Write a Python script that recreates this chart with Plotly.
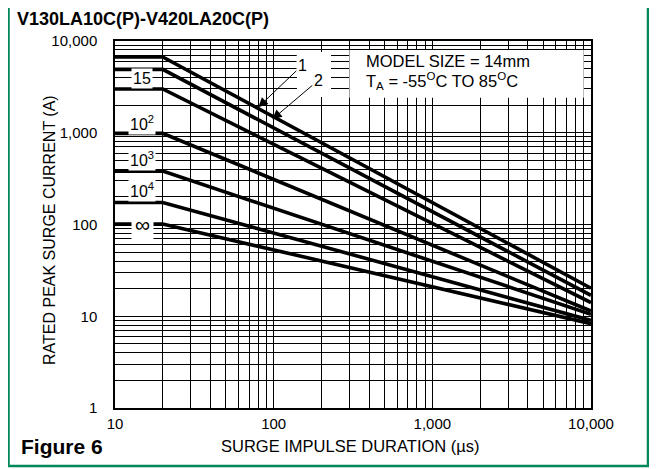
import math
import plotly.graph_objects as go

# ---------------- data ----------------
pulse_labels = ["1", "2", "15", "10<sup>2</sup>", "10<sup>3</sup>", "10<sup>4</sup>", "∞"]
duration_us = [10, 20, 10000]                      # flat up to 20 µs, then straight (log-log) to 10 ms
current_flat_A = [6700, 4900, 3000, 985, 382, 174, 101]
current_at_10ms_A = [20.2, 16.9, 14.1, 11.4, 10.5, 9.0, 8.3]

x_tick_vals = [10, 100, 1000, 10000]
x_tick_text = ["10", "100", "1,000", "10,000"]
y_tick_vals = [1, 10, 100, 1000, 10000]
y_tick_text = ["1", "10", "100", "1,000", "10,000"]

title_text = "V130LA10C(P)-V420LA20C(P)"
figure_label = "Figure 6"
x_title = "SURGE IMPULSE DURATION (µs)"
y_title = "RATED PEAK SURGE CURRENT (A)"
note_line1 = "MODEL SIZE = 14mm"
note_line2 = "T<sub>A</sub> = -55<sup>O</sup>C TO 85<sup>O</sup>C"

# ---------------- layout geometry (page pixels; page body has an 8px margin) ----------------
OFF = 8
W, H = 657 - OFF, 469 - OFF
L, R, T, B = 115 - OFF, 591 - OFF, 41 - OFF, 408 - OFF
PW, PH = R - L, B - T
X_RANGE = [1, 4]
Y_RANGE = [0, 4]

def px_x(p):  # page pixel -> paper fraction
    return (p - OFF - L) / PW

def px_y(p):
    return (B - (p - OFF)) / PH

def dx(v):
    return (math.log10(v) - X_RANGE[0]) / (X_RANGE[1] - X_RANGE[0])

def dy(v):
    return (math.log10(v) - Y_RANGE[0]) / (Y_RANGE[1] - Y_RANGE[0])

FONT = "Liberation Sans, Arial, Helvetica, sans-serif"
GREEN = "#00875a"
GRID = "#000000"

minor_x = [m * 10 ** k for k in range(1, 4) for m in range(2, 10)]
minor_y = [m * 10 ** k for k in range(0, 4) for m in range(2, 10)]

fig = go.Figure()
for lab, v0, v1 in zip(pulse_labels, current_flat_A, current_at_10ms_A):
    fig.add_trace(go.Scatter(
        x=duration_us, y=[v0, v0, v1], mode="lines",
        line=dict(color="black", width=3.6), name=lab, showlegend=False,
        hoverinfo="skip"))

axis_common = dict(
    type="log", showline=True, linecolor="black", linewidth=1.5, mirror=True,
    showgrid=True, gridcolor=GRID, gridwidth=1, ticks="", zeroline=False,
    tickfont=dict(family=FONT, size=15, color="black"),
)
fig.update_xaxes(range=X_RANGE, tickmode="array", tickvals=x_tick_vals, ticktext=x_tick_text,
                 minor=dict(tickmode="array", tickvals=minor_x, showgrid=True,
                            gridcolor=GRID, gridwidth=1, ticks=""),
                 ticklabelstandoff=1, **axis_common)
fig.update_yaxes(range=Y_RANGE, tickmode="array", tickvals=y_tick_vals, ticktext=y_tick_text,
                 minor=dict(tickmode="array", tickvals=minor_y, showgrid=True,
                            gridcolor=GRID, gridwidth=1, ticks=""),
                 ticklabelstandoff=13, **axis_common)

shapes = [
    # green frame
    dict(type="rect", xref="paper", yref="paper", x0=px_x(8.5), x1=px_x(648),
         y0=px_y(466), y1=px_y(-10), line=dict(color=GREEN, width=2.5), layer="above"),
    # white note box
    dict(type="rect", xref="paper", yref="paper", x0=dx(300), x1=dx(9000),
         y0=dy(2400), y1=dy(8000), fillcolor="white", line=dict(width=0), layer="above"),
    # white patch behind curve numbers 1 and 2
    dict(type="rect", xref="paper", yref="paper", x0=px_x(297), x1=px_x(331),
         y0=px_y(97), y1=px_y(52), fillcolor="white", line=dict(width=0), layer="above"),
]

ann = []
ann.append(dict(text="<b>%s</b>" % title_text, xref="paper", yref="paper", x=px_x(15), y=px_y(19),
                xanchor="left", yanchor="middle", showarrow=False,
                font=dict(family=FONT, size=18, color="black")))
ann.append(dict(text="<b>%s</b>" % figure_label, xref="paper", yref="paper", x=px_x(19), y=px_y(446),
                xanchor="left", yanchor="middle", showarrow=False,
                font=dict(family=FONT, size=21, color="black")))
ann.append(dict(text=x_title, xref="paper", yref="paper", x=px_x(350), y=px_y(446),
                xanchor="center", yanchor="middle", showarrow=False,
                font=dict(family=FONT, size=16.5, color="black")))
ann.append(dict(text=y_title, xref="paper", yref="paper", x=px_x(50), y=px_y(230),
                xanchor="center", yanchor="middle", showarrow=False, textangle=-90,
                font=dict(family=FONT, size=16, color="black")))
ann.append(dict(text=note_line1, xref="paper", yref="paper", x=px_x(364), y=px_y(61),
                xanchor="left", yanchor="middle", showarrow=False,
                font=dict(family=FONT, size=16.5, color="black")))
ann.append(dict(text=note_line2, xref="paper", yref="paper", x=px_x(364), y=px_y(81),
                xanchor="left", yanchor="middle", showarrow=False,
                font=dict(family=FONT, size=16.5, color="black")))

label_shift = {"15": 10, "10<sup>2</sup>": 10, "10<sup>3</sup>": 12, "10<sup>4</sup>": 12, "∞": 0}
for lab, v0 in zip(pulse_labels, current_flat_A):
    if lab in label_shift:
        is_inf = lab == "∞"
        ann.append(dict(text=lab, xref="x", yref="y", x=math.log10(14.8), y=math.log10(v0),
                        yshift=label_shift[lab], showarrow=False, bgcolor="white",
                        borderpad=3 if is_inf else 1,
                        xanchor="center", yanchor="middle",
                        font=dict(family=FONT, size=21 if is_inf else 16, color="black")))

arrow_tips = {"1": (80, 1900, 44, -42), "2": (98, 1400, 46, -39)}
for lab, (tx, ty, ax, ay) in arrow_tips.items():
    ann.append(dict(text=lab, xref="x", yref="y", x=math.log10(tx), y=math.log10(ty),
                    ax=ax, ay=ay, showarrow=True, arrowhead=2, arrowsize=1.9, arrowwidth=1,
                    arrowcolor="black", standoff=0, bgcolor="white",
                    font=dict(family=FONT, size=16, color="black")))

fig.update_layout(
    width=W, height=H, autosize=False,
    margin=dict(l=L, r=W - R, t=T, b=H - B, pad=0),
    paper_bgcolor="white", plot_bgcolor="white",
    shapes=shapes, annotations=ann, showlegend=False,
)

fig.write_html("out.html")
